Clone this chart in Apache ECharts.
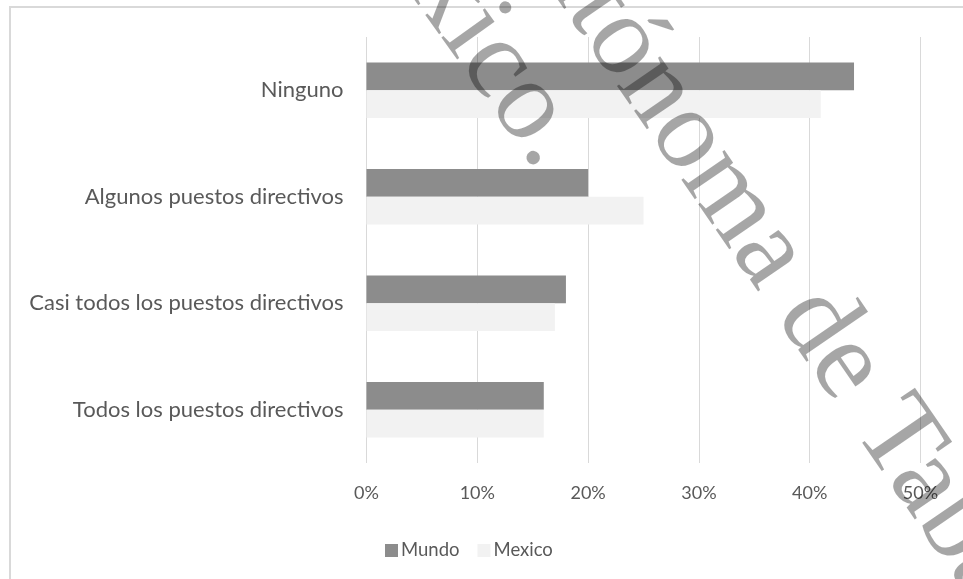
<!DOCTYPE html>
<html>
<head>
<meta charset="utf-8">
<script src="https://cdn.jsdelivr.net/npm/echarts@6/dist/echarts.min.js"></script>
<style>html,body{margin:0;padding:0;background:#fff;}#c{width:963px;height:579px;}</style>
</head>
<body>
<div id="c"></div>
<script>
const categories = ['Ninguno', 'Algunos puestos directivos', 'Casi todos los puestos directivos', 'Todos los puestos directivos'];
const mundo = [0.44, 0.20, 0.18, 0.16];
const mexico = [0.41, 0.25, 0.17, 0.16];
const xTicks = [0, 0.1, 0.2, 0.3, 0.4, 0.5];
const seriesNames = ['Mundo', 'Mexico'];

const chart = echarts.init(document.getElementById('c'));
const ang1 = -54.5 * Math.PI / 180;
const ang2 = -55.5 * Math.PI / 180;
const wmColor = 'rgba(0,0,0,0.35)';
const wmFont = '114px "Liberation Serif", "DejaVu Serif", serif';
chart.setOption({
  animation: false,
  textStyle: { fontFamily: 'Lato, "Open Sans", sans-serif' },
  grid: { left: 366.5, right: 42.5, top: 37, bottom: 116, containLabel: false },
  xAxis: {
    type: 'value', min: xTicks[0], max: xTicks[xTicks.length - 1], interval: 0.1,
    axisLine: { show: false }, axisTick: { show: false },
    splitLine: { lineStyle: { color: '#d9d9d9', width: 1 } },
    axisLabel: { color: '#595959', fontSize: 18, margin: 21,
      formatter: v => Math.round(v * 100) + '%' }
  },
  yAxis: {
    type: 'category', data: categories, inverse: true,
    axisLine: { show: false }, axisTick: { show: false },
    axisLabel: { color: '#595959', fontSize: 22, margin: 23 }
  },
  legend: {
    data: seriesNames, left: 380, top: 536, icon: 'rect', itemWidth: 13, itemHeight: 13,
    itemGap: 18, textStyle: { color: '#595959', fontSize: 18.5, padding: [0, 0, 0, -2] }
  },
  series: [
    { name: seriesNames[0], type: 'bar', data: mundo, barGap: '0%', barCategoryGap: '48%',
      itemStyle: { color: '#8c8c8c' } },
    { name: seriesNames[1], type: 'bar', data: mexico, barGap: '0%', barCategoryGap: '48%',
      itemStyle: { color: '#f2f2f2' } }
  ],
  graphic: [
    { type: 'rect', shape: { x: 10, y: 7, width: 1200, height: 1200 }, silent: true, z: 0,
      style: { fill: 'none', stroke: '#d9d9d9', lineWidth: 2 } },
    { type: 'text', x: 343, y: -152, rotation: ang1, z: 100, silent: true,
      style: { text: 'México.', font: wmFont, fill: wmColor, textAlign: 'left', textVerticalAlign: 'middle' } },
    { type: 'text', x: 511, y: -121, rotation: ang2, z: 100, silent: true,
      style: { text: 'Autónoma de Tabasco', font: wmFont, fill: wmColor, textAlign: 'left', textVerticalAlign: 'middle' } }
  ]
});
</script>
</body>
</html>
